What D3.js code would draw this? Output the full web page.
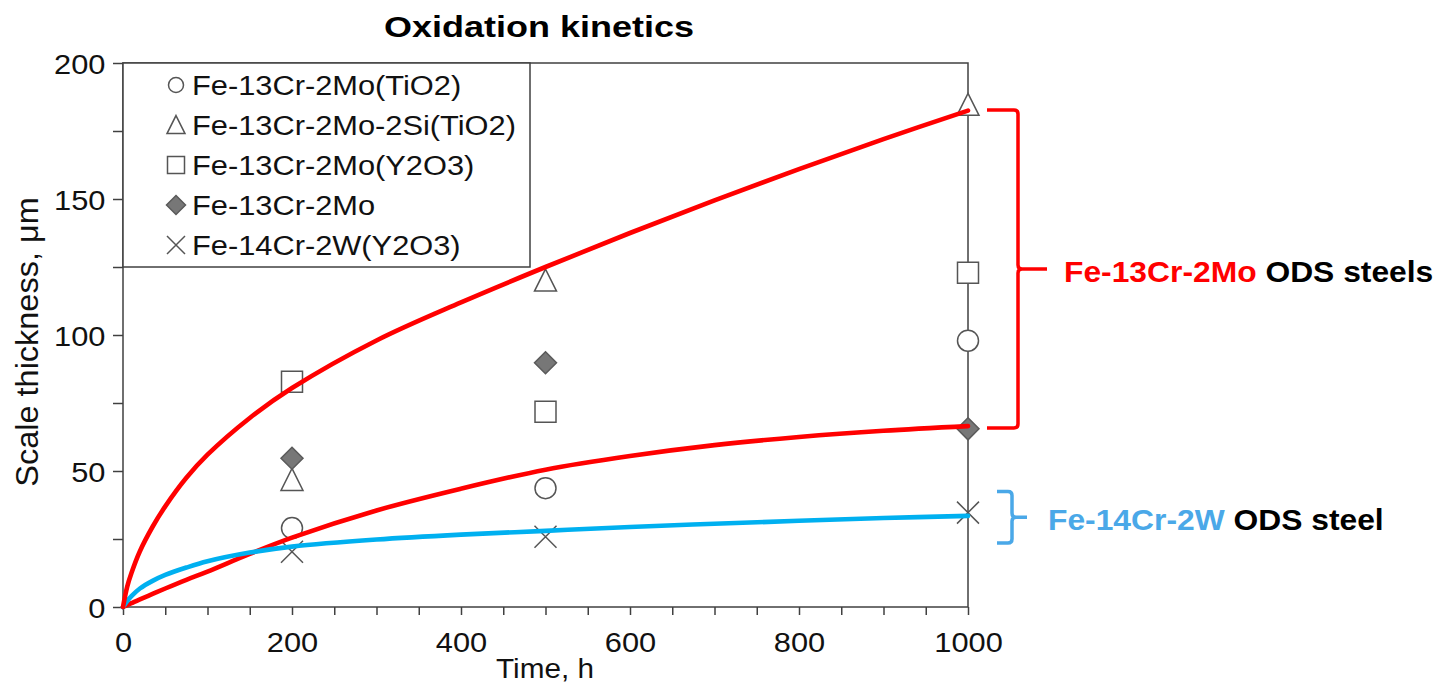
<!DOCTYPE html>
<html>
<head>
<meta charset="utf-8">
<script src="https://cdn.jsdelivr.net/npm/d3@7"></script>
<style>
	body { margin: 0; background: #fff; }
	svg { display: block; }
	text { font-family: "Liberation Sans", Arial, sans-serif; }
</style>
</head>
<body>
<svg id="chart" width="1441" height="685"></svg>
<script>
// measured points, hours vs scale thickness (um)
const times			= [200, 500, 1000];
const seriesNames	= ['Fe-13Cr-2Mo(TiO2)', 'Fe-13Cr-2Mo-2Si(TiO2)', 'Fe-13Cr-2Mo(Y2O3)', 'Fe-13Cr-2Mo', 'Fe-14Cr-2W(Y2O3)'];
const tio2			= [29.0, 43.7, 97.9];
const siTio2		= [46.7, 120.0, 184.6];
const y2o3			= [82.8, 71.8, 122.9];
const plain			= [54.7, 89.8, 65.5];
const w2y2o3		= [20.3, 25.8, 34.7];

// fitted curves
const fitTime		= [0, 5, 10, 20, 35, 50, 75, 100, 150, 200, 300, 400, 500, 600, 700, 800, 900, 1000];
const fitUpper		= [0, 7.5, 12.5, 20.5, 29.5, 37, 47.5, 56, 69.5, 80.5, 98, 112, 125, 137.5, 149.5, 161, 172, 182.5];
const fitLower		= [0, 0.7, 1.4, 2.8, 4.8, 6.8, 10, 13, 19.5, 25.5, 35.5, 43.5, 50.5, 55.5, 59.5, 62.5, 64.8, 66.5];
const fitW			= [0, 2.2, 4, 6.8, 9.6, 11.8, 14.5, 16.8, 20, 22.2, 24.8, 26.6, 28, 29.4, 30.6, 31.7, 32.7, 33.5];

const xLabels		= [0, 200, 400, 600, 800, 1000];
const yLabels		= [0, 50, 100, 150, 200];

// brackets on the right: [hi, lo] in um
const bracketRanges	= [[182.7, 65.8], [42.5, 23.5]];
const bracketNames	= ['Fe-13Cr-2Mo', 'Fe-14Cr-2W'];
const bracketTails	= [' ODS steels', ' ODS steel'];

const FONT		= '"Liberation Sans", Arial, sans-serif';
const AXIS		= '#404040';
const RED		= '#ff0000';
const BLUE		= '#00b0f0';
const LBLUE		= '#4aa8e8';
const SX		= 1.1;

let svg	= d3.select('#chart');

let x	= d3.scaleLinear().domain([0, 1000]).range([123, 968]);
let y	= d3.scaleLinear().domain([0, 200]).range([607, 63]);

function marker(shape, s) {
	switch (shape) {
		case 'circle':		return 'M' + (-s) + ',0A' + s + ',' + s + ' 0 1,0 ' + s + ',0A' + s + ',' + s + ' 0 1,0 ' + (-s) + ',0Z';
		case 'square':		return 'M' + (-s) + ',' + (-s) + 'H' + s + 'V' + s + 'H' + (-s) + 'Z';
		case 'triangle':	return 'M0,' + (-s * 1.05) + 'L' + s + ',' + (s * 0.95) + 'L' + (-s) + ',' + (s * 0.95) + 'Z';
		case 'diamond':		return 'M0,' + (-s) + 'L' + s + ',0L0,' + s + 'L' + (-s) + ',0Z';
		case 'times':		return 'M' + (-s) + ',' + (-s) + 'L' + s + ',' + s + 'M' + s + ',' + (-s) + 'L' + (-s) + ',' + s;
	}
}

let series = [
	{ name: seriesNames[0], values: tio2,   shape: 'circle',   size: 10.5, legendSize: 7.5 },
	{ name: seriesNames[1], values: siTio2, shape: 'triangle', size: 11,   legendSize: 9 },
	{ name: seriesNames[2], values: y2o3,   shape: 'square',   size: 10.5, legendSize: 8.5 },
	{ name: seriesNames[3], values: plain,  shape: 'diamond',  size: 11,   legendSize: 9.5 },
	{ name: seriesNames[4], values: w2y2o3, shape: 'times',    size: 11,   legendSize: 9 }
];

function styleMarker(sel, shape) {
	sel.attr('stroke', shape === 'diamond' ? '#5a5a5a' : '#555')
		.attr('stroke-width', 1.5)
		.attr('fill', shape === 'diamond' ? '#777' : (shape === 'times' ? 'none' : '#fff'));
}

// title
svg.append('text').attr('transform', 'translate(539,37) scale(1.2,1)').attr('text-anchor', 'middle')
	.attr('font-size', 30).attr('font-weight', 'bold').attr('fill', '#000').text('Oxidation kinetics');

// axes
let yAxis = svg.append('g').attr('transform', 'translate(' + x(0) + ',0)')
	.call(d3.axisLeft(y).tickValues(d3.range(0, 201, 25)).tickFormat((d) => (yLabels.includes(d) ? d : '')).tickSize(10).tickPadding(6).tickSizeOuter(0));
let xAxis = svg.append('g').attr('transform', 'translate(0,' + y(0) + ')')
	.call(d3.axisBottom(x).tickValues(d3.range(0, 1001, 50)).tickFormat((d) => (xLabels.includes(d) ? d : '')).tickSize(8).tickPadding(17).tickSizeOuter(0));

[xAxis, yAxis].forEach((a) => {
	a.attr('font-family', FONT).attr('font-size', 28);
	a.select('.domain').remove();
	a.selectAll('line').attr('stroke', AXIS).attr('stroke-width', 1.5);
	a.selectAll('text').attr('fill', '#111').attr('transform', 'scale(' + SX + ',1)');
});
yAxis.selectAll('text').attr('dy', '0.38em');
xAxis.selectAll('text').attr('text-anchor', 'middle');

// plot frame
svg.append('rect').attr('x', x(0)).attr('y', y(200)).attr('width', x(1000) - x(0)).attr('height', y(0) - y(200))
	.attr('fill', 'none').attr('stroke', AXIS).attr('stroke-width', 1.5);

svg.append('text').attr('transform', 'translate(545,678) scale(' + SX + ',1)').attr('text-anchor', 'middle')
	.attr('font-size', 27).attr('fill', '#111').text('Time, h');
svg.append('text').attr('transform', 'translate(38,342) rotate(-90) scale(1.16,1.1)').attr('text-anchor', 'middle')
	.attr('font-size', 28).attr('fill', '#111').text('Scale thickness, \u03bcm');

// legend
let legend = svg.append('g').attr('id', 'legend');
legend.append('rect').attr('x', x(0)).attr('y', y(200)).attr('width', 407).attr('height', y(125) - y(200))
	.attr('fill', '#fff').attr('stroke', AXIS).attr('stroke-width', 1.5);

series.forEach((s, i) => {
	let row = legend.append('g').attr('transform', 'translate(176,' + (85 + i * 40) + ')');
	row.append('path').attr('d', marker(s.shape, s.legendSize)).call(styleMarker, s.shape);
	row.append('text').attr('transform', 'translate(16,10) scale(' + SX + ',1)').attr('font-size', 28).attr('fill', '#111').text(s.name);
});

// points
series.forEach((s) => {
	svg.append('g').selectAll('path').data(s.values).join('path')
		.attr('transform', (d, i) => 'translate(' + x(times[i]) + ',' + y(d) + ')')
		.attr('d', marker(s.shape, s.size))
		.call(styleMarker, s.shape);
});

// fitted curves
let line = d3.line().x((d) => x(d[0])).y((d) => y(d[1])).curve(d3.curveCatmullRom.alpha(0.5));
[[fitLower, RED], [fitW, BLUE], [fitUpper, RED]].forEach(([vals, color]) => {
	svg.append('path').datum(fitTime.map((t, i) => [t, vals[i]]))
		.attr('d', line).attr('fill', 'none').attr('stroke', color).attr('stroke-width', 4.6).attr('stroke-linecap', 'round');
});

// brackets and labels
let bracketCfg = [
	{ x0: 19, x1: 50, x2: 79, tx: 96, color: RED, width: 3.5 },
	{ x0: 29, x1: 44, x2: 59, tx: 80, color: LBLUE, width: 3.5 }
];
bracketRanges.forEach((r, i) => {
	let c	= bracketCfg[i];
	let bx	= x(1000);
	let top	= y(r[0]), bot = y(r[1]), mid = (top + bot) / 2;
	let a	= bx + c.x0, b = bx + c.x1, e = bx + c.x2, k = 4;
	svg.append('path')
		.attr('d', 'M' + a + ',' + top + 'H' + (b - k) + 'Q' + b + ',' + top + ' ' + b + ',' + (top + k) + 'V' + (mid - k) + 'Q' + b + ',' + mid + ' ' + (b + k) + ',' + mid + 'H' + e
			+ 'M' + (b + k) + ',' + mid + 'Q' + b + ',' + mid + ' ' + b + ',' + (mid + k) + 'V' + (bot - k) + 'Q' + b + ',' + bot + ' ' + (b - k) + ',' + bot + 'H' + a)
		.attr('fill', 'none').attr('stroke', c.color).attr('stroke-width', c.width);
	let t = svg.append('text').attr('transform', 'translate(' + (bx + c.tx) + ',' + (mid + 13) + ') scale(1.06,1)')
		.attr('font-size', 30).attr('font-weight', 'bold');
	t.append('tspan').attr('fill', i === 0 ? RED : LBLUE).text(bracketNames[i]);
	t.append('tspan').attr('fill', '#000').text(bracketTails[i]);
});
</script>
</body>
</html>
